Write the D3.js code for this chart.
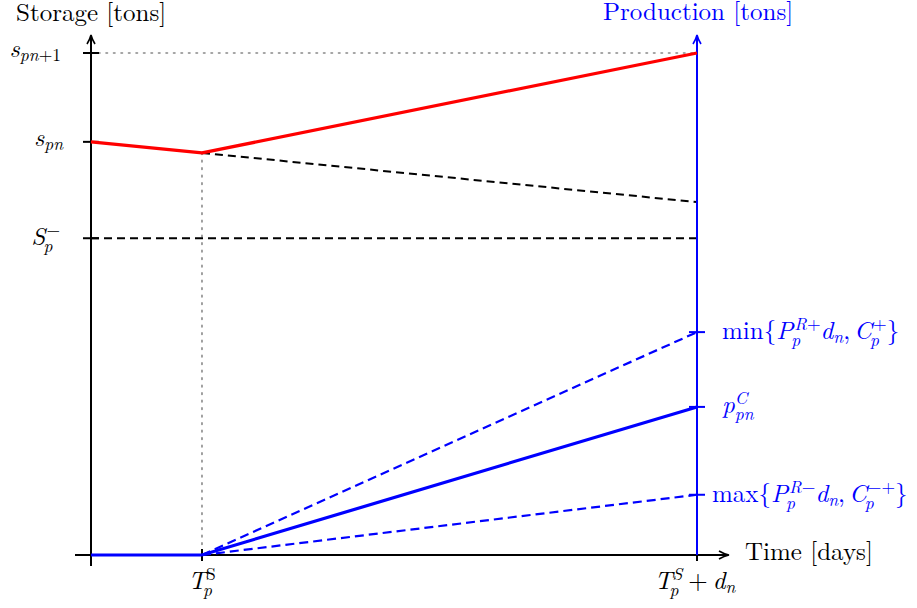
<!DOCTYPE html>
<html><head><meta charset="utf-8">
<script src="https://cdn.jsdelivr.net/npm/d3@7"></script>
</head>
<body style="margin:0;background:#fff"><svg id="c" width="917" height="608"></svg>
<script>
// ---- data ----
const timePoints = [0, 1, 5.46];          // start, T_p^S, T_p^S + d_n
const storageSolid = [82.3, 80.1, 100];   // red storage path
const storageNoProd = [80.1, 70.3];       // dashed storage if no production (from T_p^S)
const storageMinLevel = 63.1;             // S_p^-
const storageTicks = [100, 82.3, 63.1];   // s_{pn+1}, s_{pn}, S_p^-
const productionSolid = [0, 0, 29.5];     // p^C_pn
const productionUpper = [0, 44.4];        // min{...}
const productionLower = [0, 12.0];        // max{...}
const productionTicks = [44.4, 29.5, 12.0];

const FONT = '"Latin Modern Roman", "Liberation Serif", serif';
const svg = d3.select("#c");
const x = d3.scaleLinear().domain([0, 5.46]).range([91, 697]);
const y = d3.scaleLinear().domain([0, 100]).range([555, 53]);
const BLUE = "#0000ff", RED = "#ff0000";

const line = d3.line().x(d => x(d[0])).y(d => y(d[1]));

// guides
svg.append("path").attr("d", line([[0, 100], [timePoints[2], 100]]))
  .attr("stroke", "#888").attr("stroke-width", 1.6).attr("stroke-dasharray", "1.5 6").attr("fill", "none").attr("stroke-linecap","round");
svg.append("path").attr("d", line([[timePoints[1], storageSolid[1]], [timePoints[1], 0]]))
  .attr("stroke", "#888").attr("stroke-width", 1.6).attr("stroke-dasharray", "1.5 6").attr("fill", "none").attr("stroke-linecap","round");

// black dashed
svg.append("path").attr("d", line([[0, storageMinLevel], [timePoints[2], storageMinLevel]]))
  .attr("stroke", "#000").attr("stroke-width", 2).attr("stroke-dasharray", "8 5").attr("fill", "none");
svg.append("path").attr("d", line([[timePoints[1], storageNoProd[0]], [timePoints[2], storageNoProd[1]]]))
  .attr("stroke", "#000").attr("stroke-width", 2).attr("stroke-dasharray", "8 5").attr("fill", "none");

// axes
function arrowUp(g, cx, top, color) {
  g.append("path").attr("d", `M${cx-4},${top+9} Q${cx-1},${top+4} ${cx},${top} Q${cx+1},${top+4} ${cx+4},${top+9}`)
    .attr("stroke", color).attr("stroke-width", 1.6).attr("fill", "none");
}
const ax = svg.append("g");
ax.append("line").attr("x1", 75).attr("x2", 728).attr("y1", y(0)).attr("y2", y(0)).attr("stroke", "#000").attr("stroke-width", 2);
ax.append("path").attr("d", `M${719},${y(0)-4} Q${724},${y(0)-1} ${729},${y(0)} Q${724},${y(0)+1} ${719},${y(0)+4}`)
  .attr("stroke", "#000").attr("stroke-width", 1.6).attr("fill", "none");
ax.append("line").attr("x1", x(0)).attr("x2", x(0)).attr("y1", 566).attr("y2", 36).attr("stroke", "#000").attr("stroke-width", 2);
arrowUp(ax, x(0), 35, "#000");

storageTicks.forEach(v => {
  ax.append("line").attr("x1", x(0) - 8).attr("x2", x(0) + 8).attr("y1", y(v)).attr("y2", y(v)).attr("stroke", "#000").attr("stroke-width", 2);
});
timePoints.slice(1).forEach(v => {
  ax.append("line").attr("x1", x(v)).attr("x2", x(v)).attr("y1", y(0) - 6).attr("y2", y(0) + 6).attr("stroke", "#000").attr("stroke-width", 2);
});

// blue right axis
const bx = x(timePoints[2]);
svg.append("line").attr("x1", bx).attr("x2", bx).attr("y1", y(0)).attr("y2", 36).attr("stroke", BLUE).attr("stroke-width", 2);
arrowUp(svg, bx, 35, BLUE);
productionTicks.forEach(v => {
  svg.append("line").attr("x1", bx - 8).attr("x2", bx + 8).attr("y1", y(v)).attr("y2", y(v)).attr("stroke", BLUE).attr("stroke-width", 2);
});

[productionUpper, productionLower].forEach(p => {
  svg.append("path").attr("d", line([[timePoints[1], p[0]], [timePoints[2], p[1]]]))
    .attr("stroke", BLUE).attr("stroke-width", 2.2).attr("stroke-dasharray", "9 5").attr("fill", "none");
});
svg.append("path").attr("d", line(timePoints.map((t, i) => [t, productionSolid[i]])))
  .attr("stroke", BLUE).attr("stroke-width", 3.2).attr("fill", "none");

svg.append("path").attr("d", line(timePoints.map((t, i) => [t, storageSolid[i]])))
  .attr("stroke", RED).attr("stroke-width", 3.2).attr("fill", "none").attr("stroke-linejoin", "round");

// ---- math text layout ----
const FS = 25, SS = 17.5;
function seg(g, cx, cy, s, size, color) {
  const t = g.append("text").attr("x", cx).attr("y", cy).attr("font-family", FONT)
    .attr("font-size", size).attr("fill", color).text(s.t);
  if (s.it) t.attr("font-style", "italic");
  return t.node().getComputedTextLength();
}
function segs(g, cx, cy, list, size, color) {
  let w = 0;
  list.forEach(s => { w += seg(g, cx + w, cy, s, size, color); });
  return w;
}
// atoms: {t, it, sup:[segs], sub:[segs], supDx, subDx, gap}
function math(px, py, atoms, opts = {}) {
  const color = opts.color || "#000";
  const g = svg.append("g");
  let cx = 0;
  atoms.forEach(a => {
    if (a.gap) { cx += a.gap; return; }
    cx += seg(g, cx, 0, a, FS, color);
    let ws = 0, wb = 0;
    const both = a.sup && a.sub;
    if (a.sup) ws = (a.supDx || 0) + segs(g, cx + (a.supDx || 0), -9.5, a.sup, SS, color);
    if (a.sub) wb = (a.subDx || 0) + segs(g, cx + (a.subDx || 0), both ? 6.5 : 4, a.sub, SS, color);
    cx += Math.max(ws, wb);
  });
  let ox = px;
  if (opts.anchor === "end") ox = px - cx;
  if (opts.anchor === "middle") ox = px - cx / 2;
  g.attr("transform", `translate(${ox},${py})`);
  return g;
}

math(16, 21, [{t: "Storage [tons]"}]);
math(603, 20, [{t: "Production [tons]"}], {color: BLUE});
math(745, 560, [{t: "Time [days]"}]);

math(61, 57, [{t: "s", it: 1, sub: [{t: "pn", it: 1}, {t: "+1"}]}], {anchor: "end"});
math(63, 146, [{t: "s", it: 1, sub: [{t: "pn", it: 1}]}], {anchor: "end"});
math(60, 245, [{t: "S", it: 1, sup: [{t: "−"}], sub: [{t: "p", it: 1}], supDx: 1, subDx: -2}], {anchor: "end"});

math(202, 589, [{t: "T", it: 1, sup: [{t: "S"}], sub: [{t: "p", it: 1}], subDx: -3}], {anchor: "middle"});
math(695, 589, [{t: "T", it: 1, sup: [{t: "S", it: 1}], sub: [{t: "p", it: 1}], subDx: -3}, {gap: 6}, {t: "+"}, {gap: 5}, {t: "d", it: 1, sub: [{t: "n", it: 1}]}], {anchor: "middle"});

math(722, 339, [{t: "min{"}, {t: "P", it: 1, sup: [{t: "R", it: 1}, {t: "+"}], sub: [{t: "p", it: 1}], supDx: 1, subDx: -2}, {t: "d", it: 1, sub: [{t: "n", it: 1}]}, {t: ","}, {gap: 4}, {t: "C", it: 1, sup: [{t: "+"}], sub: [{t: "p", it: 1}], supDx: 1, subDx: -2}, {t: "}"}], {color: BLUE});
math(722, 413, [{t: "p", it: 1, sup: [{t: "C", it: 1}], sub: [{t: "pn", it: 1}]}], {color: BLUE});
math(712, 502, [{t: "max{"}, {t: "P", it: 1, sup: [{t: "R", it: 1}, {t: "−"}], sub: [{t: "p", it: 1}], supDx: 1, subDx: -2}, {t: "d", it: 1, sub: [{t: "n", it: 1}]}, {t: ","}, {gap: 4}, {t: "C", it: 1, sup: [{t: "−+"}], sub: [{t: "p", it: 1}], supDx: 1, subDx: -2}, {t: "}"}], {color: BLUE});
</script></body></html>
